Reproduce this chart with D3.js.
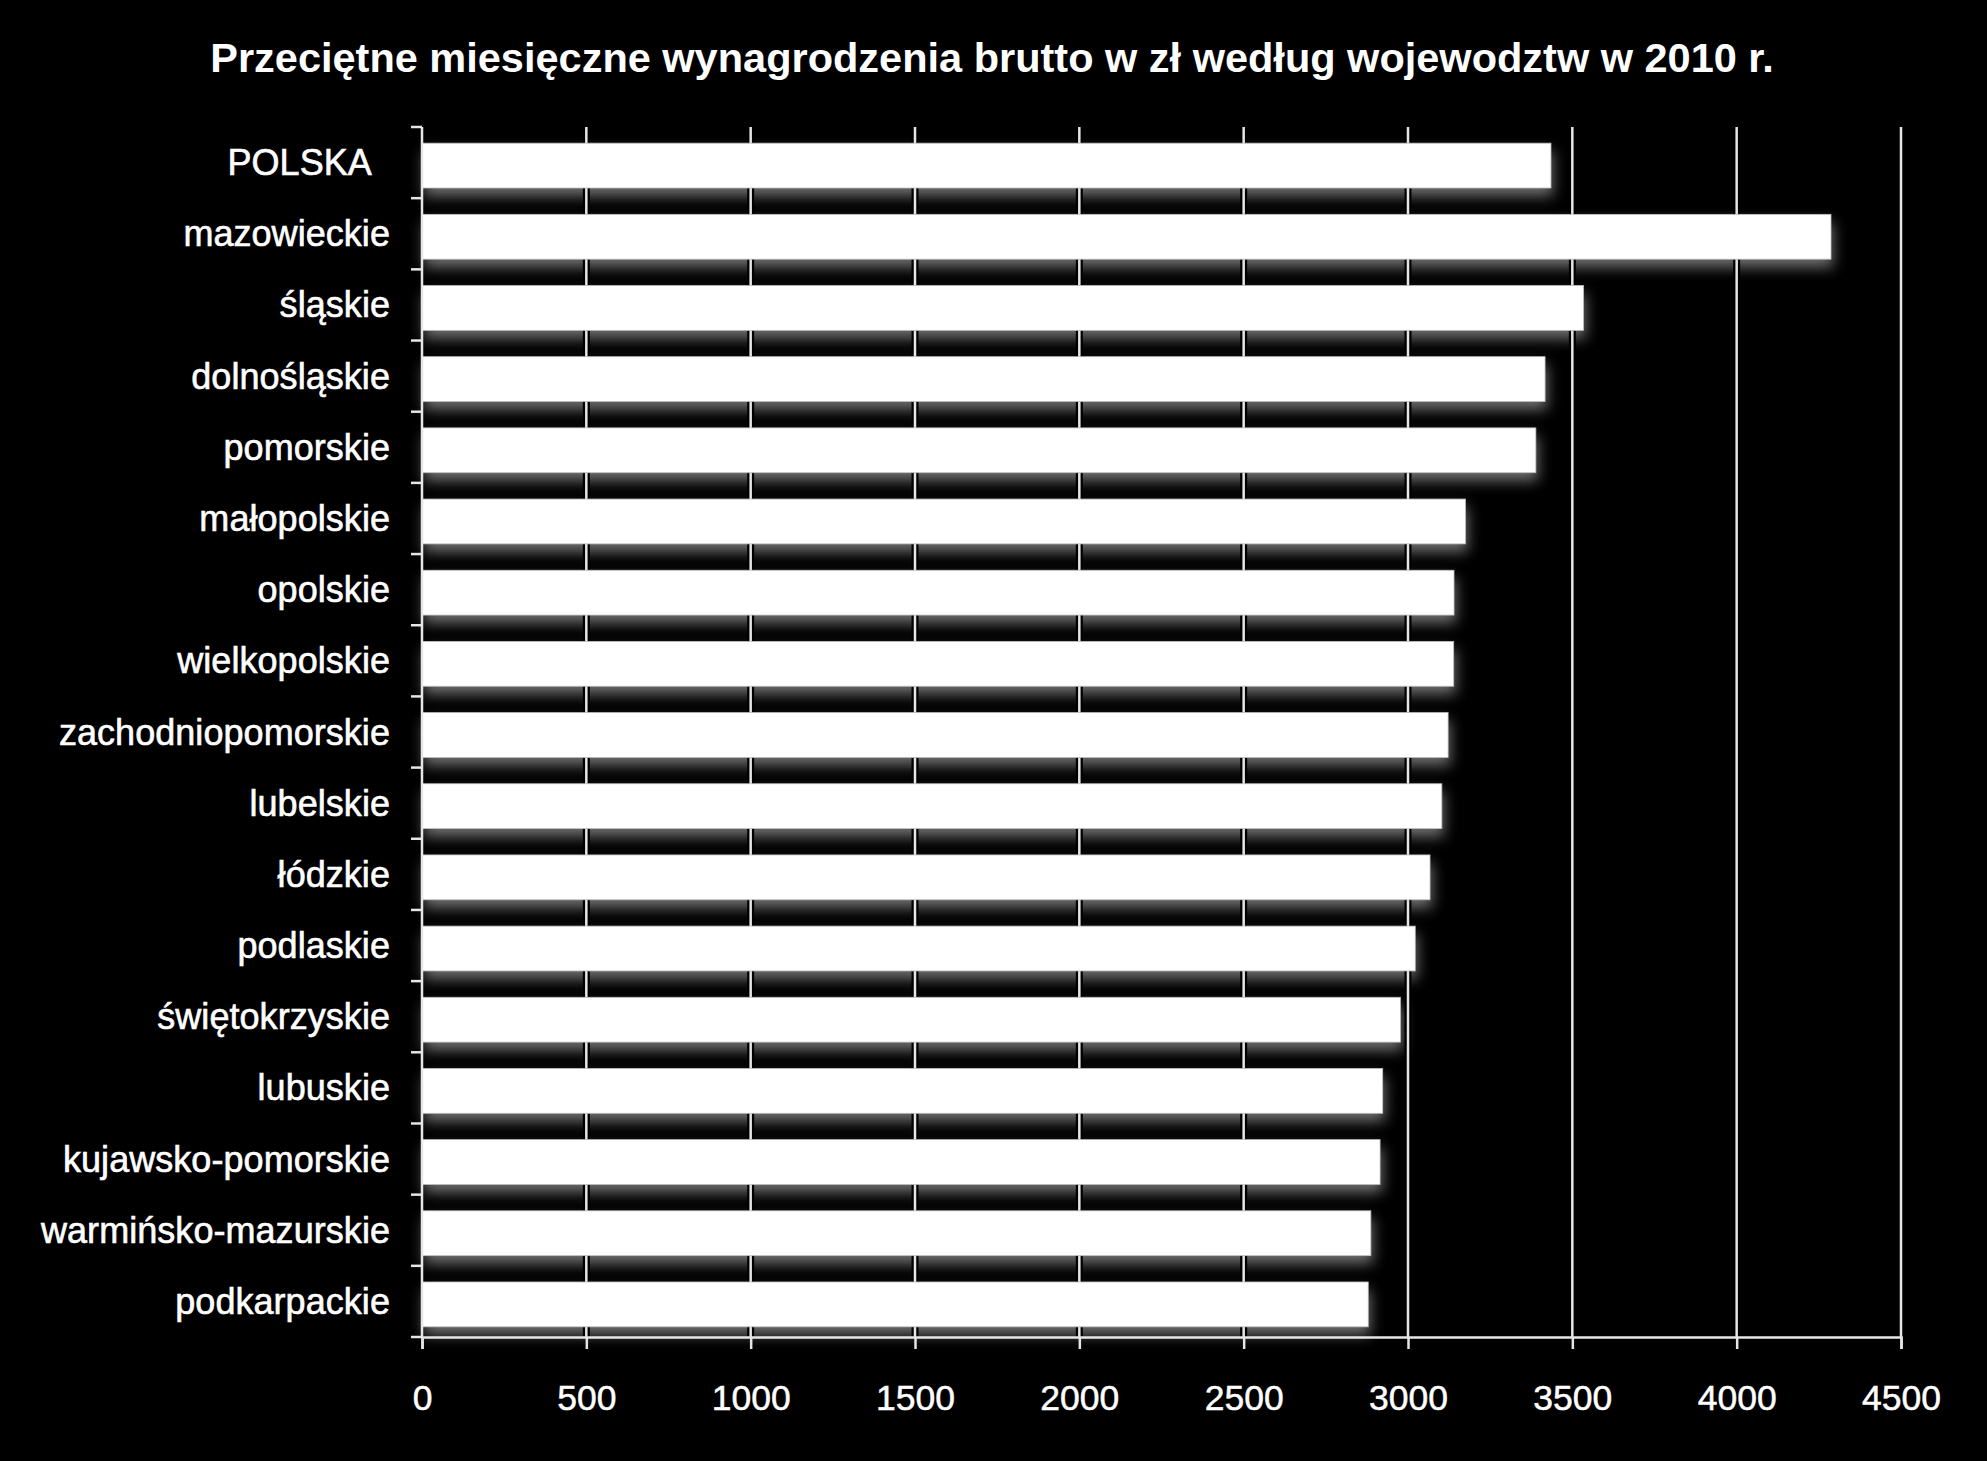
<!DOCTYPE html>
<html>
<head>
<meta charset="utf-8">
<script src="https://cdn.jsdelivr.net/npm/d3@7"></script>
<style>
  html, body { margin: 0; padding: 0; background: #000; }
  svg { display: block; }
  text { font-family: "Liberation Sans", Arial, sans-serif; fill: #fff; white-space: pre; }
</style>
</head>
<body>
<svg id="chart" width="1987" height="1461"></svg>
<script>
const title = "Przeciętne miesięczne wynagrodzenia brutto w zł według wojewodztw w 2010 r.";
const categories = [
  "POLSKA  ", "mazowieckie", "śląskie", "dolnośląskie", "pomorskie", "małopolskie",
  "opolskie", "wielkopolskie", "zachodniopomorskie", "lubelskie", "łódzkie",
  "podlaskie", "świętokrzyskie", "lubuskie", "kujawsko-pomorskie",
  "warmińsko-mazurskie", "podkarpackie"
];
const values = [3435, 4287, 3534, 3417, 3389, 3175, 3140, 3139, 3122, 3103, 3067, 3022, 2977, 2923, 2915, 2887, 2879];
const xTicks = [0, 500, 1000, 1500, 2000, 2500, 3000, 3500, 4000, 4500];

const data = categories.map((c, i) => ({ cat: c, value: values[i] }));

const W = 1987, H = 1461;
const m = { left: 422, right: 86, top: 127, bottom: 124 };
const svg = d3.select("#chart");
svg.append("rect").attr("width", W).attr("height", H).attr("fill", "#000");

const x = d3.scaleLinear().domain([0, 4500]).range([m.left, W - m.right]);
const y = d3.scaleBand().domain(categories).range([m.top, H - m.bottom]).paddingInner(0.37).paddingOuter(0.185);
const barShift = 3;

// shadow filter
const defs = svg.append("defs");
const f = defs.append("filter").attr("id", "shadow")
  .attr("x", "-5%").attr("y", "-50%").attr("width", "115%").attr("height", "250%");
f.append("feGaussianBlur").attr("in", "SourceGraphic").attr("stdDeviation", 7).attr("result", "b");
f.append("feOffset").attr("in", "b").attr("dx", 2).attr("dy", 8);

// shadows
svg.append("g").attr("filter", "url(#shadow)")
  .selectAll("rect").data(data).join("rect")
  .attr("x", x(0))
  .attr("y", d => y(d.cat) + barShift)
  .attr("width", d => x(d.value) - x(0))
  .attr("height", y.bandwidth())
  .attr("fill", "#707070");

// gridlines
const grid = svg.append("g");
grid.selectAll("line.halo").data(xTicks.slice(1)).join("line")
  .attr("class", "halo")
  .attr("x1", d => x(d)).attr("x2", d => x(d))
  .attr("y1", m.top).attr("y2", H - m.bottom)
  .attr("stroke", "#000").attr("stroke-width", 7);
grid.selectAll("line.g").data(xTicks.slice(1)).join("line")
  .attr("class", "g")
  .attr("x1", d => x(d)).attr("x2", d => x(d))
  .attr("y1", m.top).attr("y2", H - m.bottom)
  .attr("stroke", "#e6e6e6").attr("stroke-width", 2.5);

// bars
svg.append("g").selectAll("rect").data(data).join("rect")
  .attr("x", x(0))
  .attr("y", d => y(d.cat) + barShift)
  .attr("width", d => x(d.value) - x(0))
  .attr("height", y.bandwidth())
  .attr("fill", "#fff")
  .attr("stroke", "#bdbdbd").attr("stroke-width", 0.8);

// x axis
const xAxis = svg.append("g").attr("transform", `translate(0,${H - m.bottom})`)
  .call(d3.axisBottom(x).tickValues(xTicks).tickSize(12).tickPadding(36).tickFormat(d3.format("d")));
xAxis.select(".domain").attr("stroke", "#e6e6e6").attr("stroke-width", 2.5);
xAxis.selectAll(".tick line").attr("stroke", "#e6e6e6").attr("stroke-width", 2.5);
xAxis.selectAll(".tick text").attr("fill", "#fff").attr("font-size", 35.5)
  .attr("font-family", "'Liberation Sans', Arial, sans-serif").attr("dy", "0.71em")
  .attr("stroke", "#fff").attr("stroke-width", 0.5);

// y axis line + boundary ticks
const yg = svg.append("g");
yg.append("line").attr("x1", x(0)).attr("x2", x(0)).attr("y1", m.top).attr("y2", H - m.bottom)
  .attr("stroke", "#e6e6e6").attr("stroke-width", 2.5);
const bounds = d3.range(categories.length + 1).map(i => m.top + i * (H - m.bottom - m.top) / categories.length);
yg.selectAll("line.t").data(bounds).join("line").attr("class", "t")
  .attr("x1", x(0) - 11).attr("x2", x(0))
  .attr("y1", d => d).attr("y2", d => d)
  .attr("stroke", "#e6e6e6").attr("stroke-width", 2.5);

// y labels
yg.selectAll("text").data(data).join("text")
  .attr("x", x(0) - 32)
  .attr("y", d => y(d.cat) + barShift + y.bandwidth() / 2 + 9.5)
  .attr("text-anchor", "end")
  .attr("font-size", 36)
  .attr("letter-spacing", 0.05)
  .attr("stroke", "#fff").attr("stroke-width", 0.6)
  .text(d => d.cat);

// title
svg.append("text").attr("x", 992).attr("y", 72)
  .attr("text-anchor", "middle").attr("font-size", 41.5).attr("font-weight", "bold")
  .text(title);
</script>
</body>
</html>
